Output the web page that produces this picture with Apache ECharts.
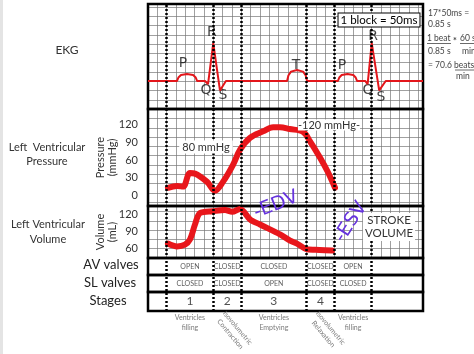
<!DOCTYPE html>
<html><head><meta charset="utf-8">
<script src="https://cdn.jsdelivr.net/npm/echarts@6/dist/echarts.min.js"></script>
<style>html,body{margin:0;padding:0;background:#fff}#c{width:474px;height:354px}</style>
</head><body><div id="c"></div>
<script>
// ---- data (time in ms, 1 block = 50 ms) ----
const blockMs = 50;
const timeMax = 1475;
const phaseBounds = [100, 350, 500, 850, 1000, 1200];
const phaseMid = [225, 425, 675, 925, 1100];
const avValves = ['OPEN', 'CLOSED', 'CLOSED', 'CLOSED', 'OPEN'];
const slValves = ['CLOSED', 'CLOSED', 'OPEN', 'CLOSED', 'CLOSED'];
const stageNums = ['1', '2', '3', '4', ''];
const stageDescT = [225, 461, 675, 960, 1100];
const stageDesc = ['Ventricles\nfilling', 'Isovolumetric\nContraction', 'Ventricles\nEmptying', 'Isovolumetric\nRelaxation', 'Ventricles\nfilling'];

const ekgT = [0,156,163,177,209,242,256,263,306,322,350,386,418,746,753,767,799,832,846,853,1019,1026,1039,1070,1101,1114,1121,1165,1178,1200,1240,1275,1475];
const ekgV = [0,0,0.33,0.57,0.67,0.57,0.33,0,0,-0.3,3.6,-0.9,0,0,0.52,0.89,1.05,0.89,0.52,0,0,0.33,0.57,0.67,0.57,0.33,0,0,-0.3,3.6,-0.9,0,0];

const waveNames = ['P','R','Q','S','T','P','R','Q','S'];
const waveT = [188,343,311,402,794,1041,1207,1180,1250];
const waveV = [1.71,4.67,-0.86,-1.33,1.52,1.52,4.29,-0.86,-1.52];

const pressT = [107,156,188,225,252,317,359,402,456,494,547,617,671,708,760,832,869,923,966,1003];
const pressV = [13,16,15,38,37,23,8,23,52,78,98,109,116,116,113,108,92,64,39,13];
const pressureTicks = [0,30,60,90,120];

const volT = [107,156,198,225,252,279,349,413,451,494,547,601,708,762,799,853,920,987];
const volV = [69,64,67,76,102,122,125,127,124,129,111,102,85,74,69,59,58,57];
const volumeTicks = [60,90,120];

// ---- chart ----
const FONT = 'Lato, "Open Sans", sans-serif';
const L = 148, W = 275;
const panels = [[4,105],[109,97],[206,52],[258,17],[275,17],[292,19]];
const zip = (a,b) => a.map((v,i)=>[v,b[i]]);

const grids = [{left:L, top:4, width:W, height:254, show:false}];
panels.forEach(p => grids.push({left:L, top:p[0], width:W, height:p[1], show:true,
  borderColor:'#000', borderWidth:2.5, backgroundColor:'transparent', z:1}));
grids.push({left:L, top:4, width:W, height:307, show:false});

const xAxes = grids.map((g,i) => ({type:'value', gridIndex:i, min:0, max:timeMax,
  show: i===0, interval: blockMs,
  axisLine:{show:false}, axisTick:{show:false}, axisLabel:{show:false},
  splitLine:{show: i===0, lineStyle:{color:'#777', width:0.7}}}));

const hidden = {show:false};
const yAxes = [
  {type:'value', gridIndex:0, min:0, max:254, interval:9.3, axisLine:hidden, axisTick:hidden, axisLabel:hidden,
   splitLine:{show:true, lineStyle:{color:'#777', width:0.7}}},
  {type:'value', gridIndex:1, min:-2.67, max:7.33, show:false},
  {type:'value', gridIndex:2, min:-18, max:147, axisLine:hidden, axisTick:hidden, splitLine:hidden,
   axisLabel:{customValues:pressureTicks, fontSize:11, color:'#333', margin:10, fontFamily:FONT},
   name:'Pressure\n(mmHg)', nameLocation:'middle', nameGap:30, nameMoveOverlap:false,
   nameTextStyle:{fontSize:11, lineHeight:12, color:'#333', fontFamily:FONT}},
  {type:'value', gridIndex:3, min:44, max:134, axisLine:hidden, axisTick:hidden, splitLine:hidden,
   axisLabel:{customValues:volumeTicks, fontSize:11, color:'#333', margin:10, fontFamily:FONT},
   name:'Volume\n(mL)', nameLocation:'middle', nameGap:30, nameMoveOverlap:false,
   nameTextStyle:{fontSize:11, lineHeight:12, color:'#333', fontFamily:FONT}},
  {type:'value', gridIndex:4, min:0, max:1, show:false},
  {type:'value', gridIndex:5, min:0, max:1, show:false},
  {type:'value', gridIndex:6, min:0, max:1, show:false},
  {type:'value', gridIndex:7, min:0, max:1, show:false}
];

function textRow(idx, arr, size, color) {
  return {type:'scatter', xAxisIndex:idx, yAxisIndex:idx, symbolSize:0, silent:true,
    data: phaseMid.map((t,i)=>({value:[t,0.5], name:arr[i]})),
    label:{show:true, position:'inside', formatter:'{b}', fontSize:size, color:color, fontFamily:FONT}};
}

const series = [
  {type:'line', xAxisIndex:1, yAxisIndex:1, data:zip(ekgT, ekgV), showSymbol:false, silent:true,
   lineStyle:{color:'#e3161b', width:2}, z:3},
  {type:'scatter', xAxisIndex:1, yAxisIndex:1, symbolSize:0, silent:true,
   data: waveT.map((t,i)=>({value:[t, waveV[i]], name:waveNames[i]})),
   label:{show:true, position:'inside', formatter:'{b}', fontSize:14, color:'#111', fontFamily:'"DejaVu Sans"'}},
  {type:'line', xAxisIndex:2, yAxisIndex:2, data:zip(pressT, pressV), showSymbol:false, smooth:0.35, silent:true,
   lineStyle:{color:'#e8161b', width:6, cap:'round', join:'round'}, z:3},
  {type:'line', xAxisIndex:3, yAxisIndex:3, data:zip(volT, volV), showSymbol:false, smooth:0.3, silent:true,
   lineStyle:{color:'#e8161b', width:6, cap:'round', join:'round'}, z:3},
  textRow(4, avValves, 7, '#333'),
  textRow(5, slValves, 7, '#333'),
  textRow(6, stageNums, 12, '#222'),
  {type:'scatter', xAxisIndex:6, yAxisIndex:6, symbolSize:0, silent:true,
   data: stageDescT.map((t,i)=>{
     const rot = stageDesc[i].indexOf('Iso')===0;
     return {value:[t,0.5], name:stageDesc[i],
       label: rot ? {rotate:-50, offset:[22.6,19]} : {offset:[0,21]}};
   }),
   label:{show:true, position:'inside', formatter:'{b}', fontSize:7, lineHeight:9.5, color:'#555', fontFamily:FONT}},
  {type:'scatter', xAxisIndex:7, yAxisIndex:7, symbolSize:0, silent:true, data:[[0,0]],
   markLine:{silent:true, symbol:'none', label:{show:false},
     lineStyle:{color:'#000', width:2.5, type:[2,2]},
     data: phaseBounds.map(v=>({xAxis:v}))}, z:4}
];

function txt(x, y, text, o) {
  o = o || {};
  return {type:'text', x:x, y:y, rotation:o.rot||0, z:100, silent:true,
    style:Object.assign({text:text, fill:o.color||'#333', font:(o.weight||'normal')+' '+(o.size||12)+'px '+(o.family||FONT),
      textAlign:o.align||'center', align:o.align||'center', textVerticalAlign:'middle', verticalAlign:'middle',
      lineHeight:o.lh||undefined}, o.extra||{})};
}
function line(x1,y1,x2,y2,c){return {type:'line', z:100, silent:true, shape:{x1:x1,y1:y1,x2:x2,y2:y2}, style:{stroke:c||'#444', lineWidth:0.8}};}

const graphics = [
  {type:'rect', shape:{x:0,y:0,width:3,height:354}, style:{fill:'#e4e4e4'}, z:0, silent:true},
  txt(67, 50, 'EKG', {size:12}),
  txt(47, 154, 'Left  Ventricular\nPressure', {size:11, lh:14}),
  txt(48, 232, 'Left Ventricular\nVolume', {size:11, lh:15}),
  txt(111, 265, 'AV valves', {size:13, color:'#222'}),
  txt(110, 283, 'SL valves', {size:13, color:'#222'}),
  txt(108, 301, 'Stages', {size:13, color:'#222'}),
  txt(379, 20, '1 block = 50ms', {size:11.5, color:'#000', extra:{backgroundColor:'#fff', borderColor:'#000', borderWidth:1, padding:[1,2,0,2]}}),
  txt(206, 147, '80 mmHg', {size:11, extra:{backgroundColor:'#fff', padding:[1,3]}}),
  txt(329, 125, '-120 mmHg-', {size:11, extra:{backgroundColor:'#fff', padding:[0,0]}}),
  txt(389, 227, 'STROKE\nVOLUME', {size:11.5, lh:13, extra:{backgroundColor:'#fff', padding:[1,2]}}),
  txt(276, 205, '-EDV', {size:19, color:'#6633dd', rot:0.38, family:'"DejaVu Sans"'}),
  txt(351, 222, '-ESV', {size:19, color:'#6633dd', rot:1.0, family:'"DejaVu Sans"'}),
  txt(428, 13, '17*50ms =', {size:8.5, align:'left', color:'#444'}),
  txt(428, 24, '0.85 s', {size:8.5, align:'left', color:'#444'}),
  txt(427, 38, '1 beat', {size:8.5, align:'left', color:'#444'}),
  txt(455, 41, '*', {size:9, color:'#444', weight:'bold'}),
  txt(460, 38, '60 s', {size:8.5, align:'left', color:'#444'}),
  line(427, 43.5, 451, 43.5), line(460, 43.5, 474, 43.5),
  txt(428, 51, '0.85 s', {size:8.5, align:'left', color:'#444'}),
  txt(462, 51, 'min', {size:8.5, align:'left', color:'#444'}),
  txt(428, 65, '= 70.6 beats', {size:8.5, align:'left', color:'#444'}),
  line(455, 70, 474, 70),
  txt(456, 76, 'min', {size:8.5, align:'left', color:'#444'})
];

const chart = echarts.init(document.getElementById('c'), null, {renderer:'canvas'});
chart.setOption({
  animation:false, backgroundColor:'#fff',
  grid:grids, xAxis:xAxes, yAxis:yAxes, series:series, graphic:graphics
});
</script></body></html>
